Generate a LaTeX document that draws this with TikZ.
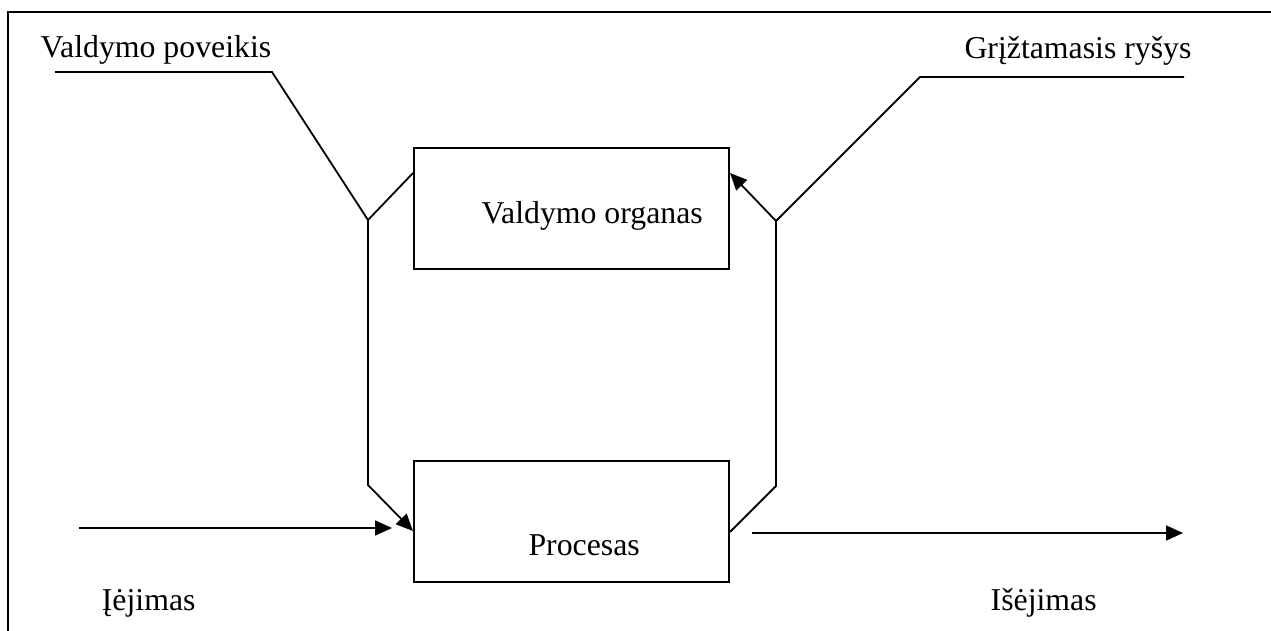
\documentclass[tikz,border=0pt]{standalone}
\usepackage{fontspec}
\setmainfont{Liberation Serif}
\usetikzlibrary{arrows.meta}
\begin{document}
\begin{tikzpicture}[x=1pt,y=-1pt,
  blockbox/.style={draw,line width=2pt,minimum width=315pt,minimum height=121pt,inner sep=0pt},
  wire/.style={line width=1.8pt},
  tipped/.style={wire,-{Triangle[length=17pt,width=15pt]}},
  caption/.style={anchor=base west,inner sep=0pt,font=\fontsize{31.8}{36}\selectfont}]
\useasboundingbox (0,0) rectangle (1271,631);
% frame
\draw[line width=2.2pt] (8,631) -- (8,12) -- (1271,12);
% blocks
\node[blockbox] (vo) at (571.5,208.5) {};
\node[blockbox] (pr) at (571.5,521) {};
\node[caption] (votext) at (481.5,223.3) {Valdymo organas};
\node[caption] (prtext) at (528.3,555) {Procesas};
% labels
\node[caption] (vp) at (40.5,57.3) {Valdymo poveikis};
\node[caption] (gr) at (964.3,59) {Grįžtamasis ryšys};
\node[caption] (in) at (101.7,610) {Įėjimas};
\node[caption] (out) at (990.5,610) {Išėjimas};
% routing points
\coordinate (vpL) at (55,72);
\coordinate (vpR) at (272,72);
\coordinate (jl) at (368,220);
\coordinate (jlb) at (368,485);
\coordinate (grR) at (1184,77);
\coordinate (grL) at (920,77);
\coordinate (jr) at (776,221);
\coordinate (jrb) at (776,486);
\coordinate (inS) at (79,528);
\coordinate (inE) at (392,528);
\coordinate (outS) at (752,533);
\coordinate (outE) at (1183,533);
% control action
\draw[wire] (vpL) -- (vpR) -- (jl) -- (vo.west |- 0,173);
\draw[tipped] (jl) -- (jlb) -- (pr.west |- 0,531);
% feedback
\draw[wire] (grR) -- (grL) -- (jr) -- (jrb) -- (pr.east |- 0,532);
\draw[tipped] (jr) -- (vo.east |- 0,173);
% input and output
\draw[tipped] (inS) -- (inE);
\draw[tipped] (outS) -- (outE);
\end{tikzpicture}
\end{document}
